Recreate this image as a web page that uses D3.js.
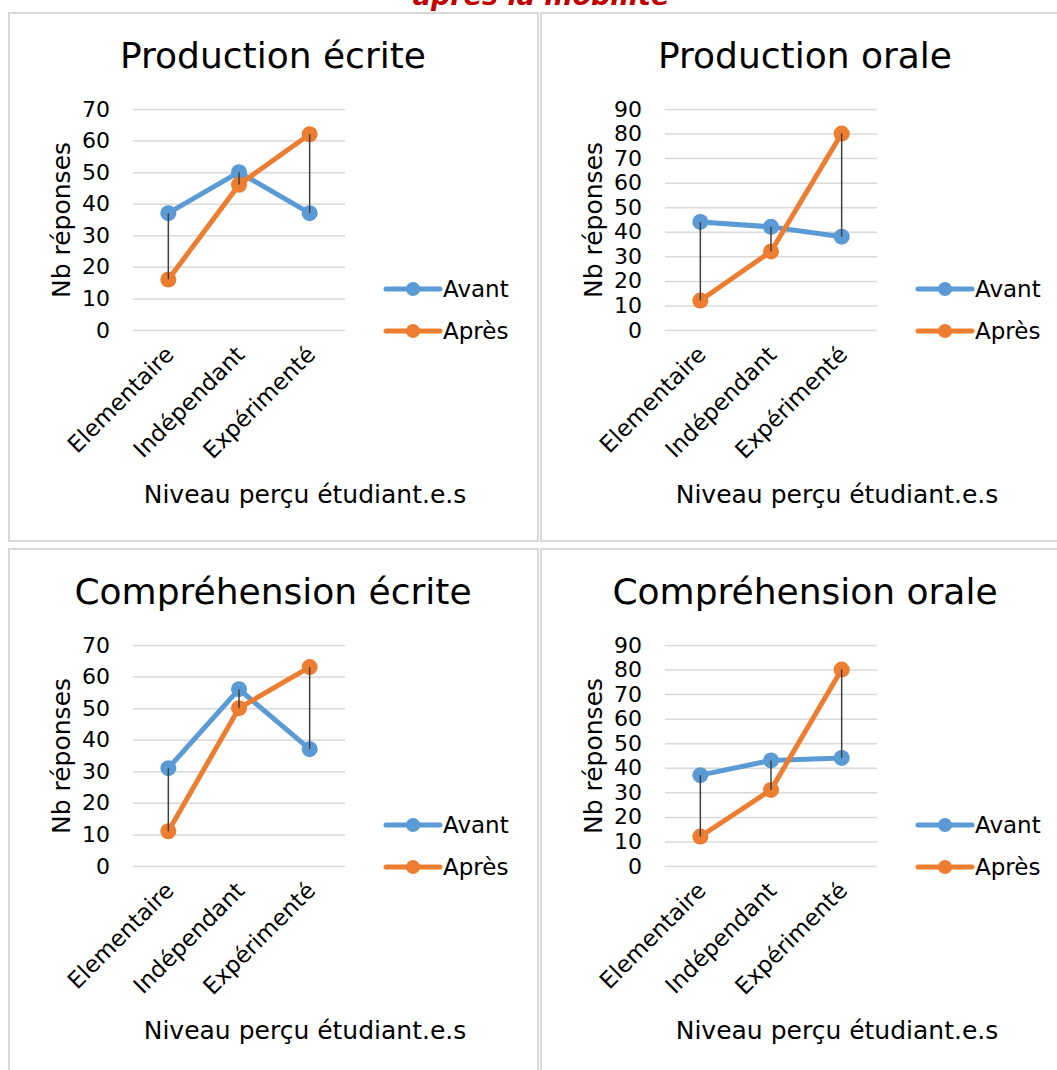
<!DOCTYPE html>
<html>
<head>
<meta charset="utf-8">
<script src="https://cdn.jsdelivr.net/npm/d3@7"></script>
<style>
  body { margin: 0; background: #ffffff; }
  svg { display: block; font-family: "DejaVu Sans", sans-serif; }
</style>
</head>
<body>
<div id="chart"></div>
<script>
var categories = ["Elementaire", "Indépendant", "Expérimenté"];
var seriesNames = ["Avant", "Après"];
var panelTitles = ["Production écrite", "Production orale", "Compréhension écrite", "Compréhension orale"];
var yMaxValues = [70, 90, 70, 90];

var avantProdEcrite = [37, 50, 37];
var apresProdEcrite = [16, 46, 62];
var avantProdOrale = [44, 42, 38];
var apresProdOrale = [12, 32, 80];
var avantCompEcrite = [31, 56, 37];
var apresCompEcrite = [11, 50, 63];
var avantCompOrale = [37, 43, 44];
var apresCompOrale = [12, 31, 80];

var xTitle = "Niveau perçu étudiant.e.s";
var yTitle = "Nb réponses";
var pageTitle = "après la mobilité";

var COLORS = ["#5b9bd5", "#ed7d31"];

var ChartPanel = function(svg, index, avant, apres)
{
  this.svg = svg;
  this.index = index;
  this.avant = avant;
  this.apres = apres;
  // panels sit in a 2x2 grid
  this.ox = (index % 2) * 532;
  this.oy = Math.floor(index / 2) * 536;
};

ChartPanel.prototype.draw = function()
{
  var self = this;
  var g = this.svg.append("g").attr("transform", "translate(" + this.ox + "," + this.oy + ")");

  // frame
  g.append("rect")
   .attr("x", 9)
   .attr("y", 13)
   .attr("width", 529)
   .attr("height", 528)
   .attr("fill", "none")
   .attr("stroke", "#d9d9d9")
   .attr("stroke-width", 2);

  var x = d3.scaleBand().domain(categories).range([133, 345]);
  var y = d3.scaleLinear().domain([0, yMaxValues[this.index]]).range([330, 109]);

  // gridlines + tick labels
  var yAxis = d3.axisLeft(y).ticks(yMaxValues[this.index] / 10).tickSize(-212).tickPadding(23);
  var ya = g.append("g").attr("transform", "translate(133,0)").call(yAxis);
  ya.select(".domain").remove();
  ya.selectAll("line").attr("stroke", "#d9d9d9").attr("stroke-width", 1.5);
  ya.selectAll("text").attr("font-size", "22px")
    .attr("font-family", "DejaVu Sans").attr("fill", "#000");

  // category labels
  var xAxis = d3.axisBottom(x).tickSize(0);
  var xa = g.append("g").attr("transform", "translate(0,330)").call(xAxis);
  xa.select(".domain").remove();
  xa.selectAll("text")
    .attr("font-size", "23px")
    .attr("font-family", "DejaVu Sans")
    .attr("fill", "#000")
    .attr("text-anchor", "end")
    .attr("y", 0)
    .attr("dy", "0")
    .attr("transform", "translate(7,26) rotate(-45)");

  // titles
  g.append("text")
   .attr("x", 273).attr("y", 68)
   .attr("text-anchor", "middle")
   .attr("font-size", "36px")
   .text(panelTitles[this.index]);

  g.append("text")
   .attr("transform", "translate(70,220) rotate(-90)")
   .attr("text-anchor", "middle")
   .attr("font-size", "25px")
   .text(yTitle);

  g.append("text")
   .attr("x", 305).attr("y", 503)
   .attr("text-anchor", "middle")
   .attr("font-size", "25px")
   .text(xTitle);

  var cx = function(d, i) { return x(categories[i]) + x.bandwidth() / 2; };
  var line = d3.line().x(function(d, i) { return cx(d, i); }).y(function(d) { return y(d); });

  [this.avant, this.apres].forEach(function(values, s)
  {
    g.append("path")
     .datum(values)
     .attr("d", line)
     .attr("fill", "none")
     .attr("stroke", COLORS[s])
     .attr("stroke-width", 5)
     .attr("stroke-linejoin", "round");

    g.selectAll(".m" + s)
     .data(values)
     .enter().append("circle")
     .attr("class", "m" + s)
     .attr("cx", function(d, i) { return cx(d, i); })
     .attr("cy", function(d) { return y(d); })
     .attr("r", 8)
     .attr("fill", COLORS[s]);
  });

  // high-low lines
  g.selectAll(".hl")
   .data(this.avant)
   .enter().append("line")
   .attr("class", "hl")
   .attr("x1", function(d, i) { return cx(d, i); })
   .attr("x2", function(d, i) { return cx(d, i); })
   .attr("y1", function(d) { return y(d); })
   .attr("y2", function(d, i) { return y(self.apres[i]); })
   .attr("stroke", "#404040")
   .attr("stroke-width", 1.5);

  // legend
  seriesNames.forEach(function(name, s)
  {
    var ly = 289 + s * 42;
    g.append("line")
     .attr("x1", 386).attr("x2", 440).attr("y1", ly).attr("y2", ly)
     .attr("stroke", COLORS[s]).attr("stroke-width", 5).attr("stroke-linecap", "round");
    g.append("circle").attr("cx", 413).attr("cy", ly).attr("r", 7).attr("fill", COLORS[s]);
    g.append("text")
     .attr("x", 443).attr("y", ly + 8)
     .attr("font-size", "23px")
     .text(name);
  });
};

var svg = d3.select("#chart").append("svg")
            .attr("width", 1057)
            .attr("height", 1070);

svg.append("text")
   .attr("x", 541).attr("y", 5)
   .attr("text-anchor", "middle")
   .attr("font-size", "27px")
   .attr("font-weight", "bold")
   .attr("font-style", "italic")
   .attr("fill", "#c00000")
   .text(pageTitle);

new ChartPanel(svg, 0, avantProdEcrite, apresProdEcrite).draw();
new ChartPanel(svg, 1, avantProdOrale, apresProdOrale).draw();
new ChartPanel(svg, 2, avantCompEcrite, apresCompEcrite).draw();
new ChartPanel(svg, 3, avantCompOrale, apresCompOrale).draw();
</script>
</body>
</html>
